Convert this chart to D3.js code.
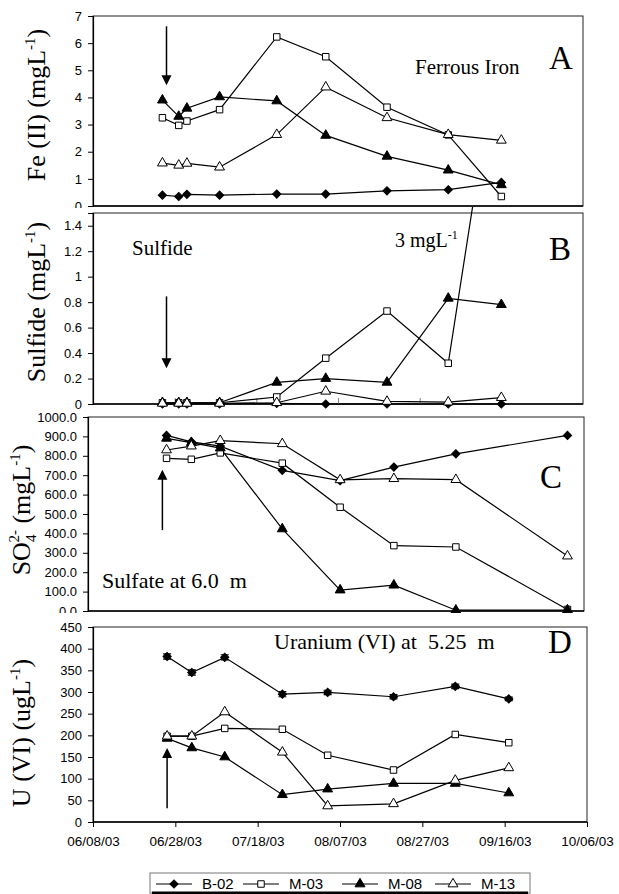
<!DOCTYPE html>
<html><head><meta charset="utf-8">
<script src="https://cdn.jsdelivr.net/npm/d3@7"></script>
<style>body{margin:0;background:#fff}svg{display:block}</style>
</head><body>
<svg id="c" width="619" height="894"></svg>
<script>
// ---------- data ----------
const xDomain = ["06/08/03", "10/06/03"];
const xTickLabels = ["06/08/03","06/28/03","07/18/03","08/07/03","08/27/03","09/16/03","10/06/03"];
const arrowDate = "06/26/03";
const seriesNames = ["B-02", "M-03", "M-08", "M-13"];

// Panel A – Ferrous iron (mg/L)
const datesA = ["06/25/03","06/29/03","07/01/03","07/09/03","07/23/03","08/04/03","08/19/03","09/03/03","09/16/03"];
const feB02 = [0.40, 0.35, 0.43, 0.40, 0.44, 0.44, 0.56, 0.60, 0.87];
const feM03 = [3.25, 2.97, 3.13, 3.55, 6.23, 5.50, 3.64, 2.62, 0.35];
const feM08 = [3.90, 3.30, 3.60, 4.02, 3.87, 2.60, 1.83, 1.32, 0.78];
const feM13 = [1.58, 1.50, 1.57, 1.43, 2.63, 4.38, 3.25, 2.63, 2.42];
const feTicks = [0,1,2,3,4,5,6,7];

// Panel B – Sulfide (mg/L)
const datesB = datesA;
const sB02 = [0, 0, 0, 0, 0.005, 0, 0, 0, 0];
const sM03 = [0.01, 0.01, 0.01, 0.01, 0.055, 0.36, 0.73, 0.32, 3.0];
const sM08 = [0.01, 0.01, 0.01, 0.01, 0.17, 0.20, 0.17, 0.83, 0.78];
const sM13 = [0.005, 0.005, 0.005, 0.005, 0.01, 0.10, 0.02, 0.015, 0.05];
const sTicks = [0,0.2,0.4,0.6,0.8,1,1.2,1.4];

// Panel C – Sulfate (mg/L)
const datesC = ["06/27/03","07/03/03","07/10/03","07/25/03","08/08/03","08/21/03","09/05/03","10/02/03"];
const soB02 = [905, 872, 850, 725, 672, 742, 810, 905];
const soM03 = [787, 782, 815, 762, 535, 337, 330, 8];
const soM08 = [890, 868, 840, 423, 108, 133, 4, 5];
const soM13 = [830, 850, 878, 862, 676, 682, 677, 283];
const soTicks = [0,100,200,300,400,500,600,700,800,900,1000];

// Panel D – Uranium (ug/L)
const datesD = ["06/26/03","07/02/03","07/10/03","07/24/03","08/04/03","08/20/03","09/04/03","09/17/03"];
const uB02 = [382, 345, 380, 295, 299, 289, 313, 284];
const uB02err = [6, 6, 6, 6, 5, 5, 5, 4];
const uM03 = [198, 198, 216, 214, 154, 120, 202, 183];
const uM08 = [193, 171, 150, 63, 76, 89, 89, 67];
const uM13 = [198, 198, 254, 161, 37, 42, 96, 125];
const uTicks = [0,50,100,150,200,250,300,350,400,450];

// ---------- drawing ----------
const parse = d3.timeParse("%m/%d/%y");
const svg = d3.select("#c");
const SERIF = "'Liberation Serif','Times New Roman',serif";
const SANS = "'Liberation Sans',Arial,sans-serif";

const styles = [
  {shape: "diamond", fill: "#000"},
  {shape: "square", fill: "#fff"},
  {shape: "triangle", fill: "#000"},
  {shape: "triangle", fill: "#fff"}
];
function markerPath(shape) {
  if (shape === "diamond") return d3.symbol(d3.symbolSquare, 34)();
  if (shape === "square") return d3.symbol(d3.symbolSquare, 42)();
  return d3.symbol(d3.symbolTriangle, 42)();
}
function drawMarker(sel, st) {
  sel.append("path").attr("d", markerPath(st.shape))
    .attr("transform", st.shape === "diamond" ? "rotate(45)" : null)
    .attr("fill", st.fill).attr("stroke", "#000").attr("stroke-width", 1);
}

let clipId = 0;
function panel(cfg) {
  const g = svg.append("g");
  g.append("rect").attr("x", 0).attr("y", cfg.bgTop).attr("width", 619)
    .attr("height", cfg.bottom - cfg.bgTop + 60).attr("fill", "#fff");
  const x = d3.scaleTime().domain(xDomain.map(parse)).range([cfg.left, cfg.right]);
  const y = d3.scaleLinear().domain([0, cfg.yMax]).range([cfg.bottom, cfg.top]);

  g.append("rect").attr("x", cfg.left).attr("y", cfg.top)
    .attr("width", cfg.right - cfg.left).attr("height", cfg.bottom - cfg.top)
    .attr("fill", "none").attr("stroke", "#222").attr("stroke-width", 1);

  const ya = d3.axisLeft(y).tickValues(cfg.ticks).tickSize(5).tickPadding(6).tickFormat(cfg.fmt);
  const yg = g.append("g").attr("transform", `translate(${cfg.left},0)`).call(ya);
  yg.select(".domain").attr("stroke", "#000").attr("stroke-width", 1.2);
  yg.selectAll(".tick line").attr("stroke", "#000");
  yg.selectAll("text").attr("font-family", SANS).attr("font-size", 13).attr("fill", "#000");

  g.append("line").attr("x1", cfg.left).attr("x2", cfg.right)
    .attr("y1", cfg.bottom).attr("y2", cfg.bottom).attr("stroke", "#000").attr("stroke-width", 1.5);

  if (cfg.innerTicks) {
    const xa = d3.axisBottom(x).tickValues(xTickLabels.slice(1, -1).map(parse)).tickSize(-6).tickFormat("");
    const xg = g.append("g").attr("transform", `translate(0,${cfg.bottom})`).call(xa);
    xg.select(".domain").remove();
    xg.selectAll(".tick line").attr("stroke", "#888");
  }
  if (cfg.xLabels) {
    const xa = d3.axisBottom(x).tickValues(xTickLabels.map(parse)).tickSize(5).tickPadding(9)
      .tickFormat(d3.timeFormat("%m/%d/%y"));
    const xg = g.append("g").attr("transform", `translate(0,${cfg.bottom})`).call(xa);
    xg.select(".domain").remove();
    xg.selectAll(".tick line").attr("stroke", "#000");
    xg.selectAll("text").attr("font-family", SANS).attr("font-size", 13.5).attr("fill", "#000");
  }

  const id = "clip" + (clipId++);
  svg.append("clipPath").attr("id", id).append("rect")
    .attr("x", cfg.left - 10).attr("y", cfg.clipTop)
    .attr("width", cfg.right - cfg.left + 20).attr("height", cfg.bottom - cfg.clipTop + 10);
  const pg = g.append("g").attr("clip-path", `url(#${id})`);

  const dates = cfg.dates.map(parse);
  cfg.series.forEach((vals) => {
    const pts = vals.map((v, i) => [dates[i], v]);
    pg.append("path").datum(pts)
      .attr("d", d3.line().x(d => x(d[0])).y(d => y(d[1])))
      .attr("fill", "none").attr("stroke", "#000").attr("stroke-width", 1.2);
  });
  if (cfg.err) {
    cfg.series[0].forEach((v, i) => {
      const cx = x(dates[i]);
      const e = cfg.err[i];
      pg.append("path")
        .attr("d", `M${cx},${y(v - e)}V${y(v + e)}M${cx - 4},${y(v - e)}H${cx + 4}M${cx - 4},${y(v + e)}H${cx + 4}`)
        .attr("stroke", "#000").attr("stroke-width", 1.2).attr("fill", "none");
    });
  }
  cfg.series.forEach((vals, si) => {
    vals.forEach((v, i) => {
      const m = pg.append("g").attr("transform", `translate(${x(dates[i])},${y(v)})`);
      drawMarker(m, styles[si]);
    });
  });

  const ax = x(parse(arrowDate));
  const y1 = y(cfg.arrow[0]), y2 = y(cfg.arrow[1]);
  const dir = y2 > y1 ? 1 : -1;
  g.append("line").attr("x1", ax).attr("x2", ax).attr("y1", y1).attr("y2", y2 - dir * 8)
    .attr("stroke", "#000").attr("stroke-width", 1.5);
  g.append("path").attr("d", `M${ax - 5},${y2 - dir * 10}L${ax + 5},${y2 - dir * 10}L${ax},${y2}Z`).attr("fill", "#000");

  g.append("text").attr("x", cfg.letterX).attr("y", cfg.letterY).attr("text-anchor", "middle")
    .attr("font-family", SERIF).attr("font-size", 33).text(cfg.letter);

  const t = g.append("text").attr("transform", `translate(${cfg.titleX},${cfg.titleY}) rotate(-90)`)
    .attr("text-anchor", "middle").attr("font-family", SERIF).attr("font-size", 26);
  cfg.title(t);
  return {g, x, y};
}

function unitTitle(t, pre) {
  t.append("tspan").text(pre + " (" + (pre.startsWith("U") ? "ugL" : "mgL"));
  t.append("tspan").attr("font-size", 15).attr("dy", -10).text("-1");
  t.append("tspan").attr("dy", 10).text(")");
}

const A = panel({
  top: 16, bottom: 206, left: 93, right: 583, bgTop: 0, clipTop: 0, yMax: 7,
  ticks: feTicks, fmt: d3.format("d"), dates: datesA,
  series: [feB02, feM03, feM08, feM13], arrow: [6.62, 4.45],
  letter: "A", letterX: 561, letterY: 69, titleX: 45, titleY: 105,
  title: t => unitTitle(t, "Fe (II)")
});
A.g.append("text").attr("x", 415).attr("y", 74).attr("font-family", SERIF).attr("font-size", 21).text("Ferrous Iron");

const B = panel({
  top: 213, bottom: 404, left: 93, right: 583, bgTop: 208, clipTop: 207, yMax: 1.5,
  ticks: sTicks, fmt: d => d3.format("~g")(d), dates: datesB, innerTicks: true,
  series: [sB02, sM03, sM08, sM13], arrow: [0.845, 0.28],
  letter: "B", letterX: 560, letterY: 260, titleX: 45, titleY: 302,
  title: t => unitTitle(t, "Sulfide")
});
B.g.append("text").attr("x", 132).attr("y", 255).attr("font-family", SERIF).attr("font-size", 21).text("Sulfide");
const t3 = B.g.append("text").attr("x", 395).attr("y", 247).attr("font-family", SERIF).attr("font-size", 20);
t3.append("tspan").text("3 mgL");
t3.append("tspan").attr("font-size", 12).attr("dy", -8).text("-1");

const C = panel({
  top: 417, bottom: 611, left: 88, right: 584, bgTop: 410, clipTop: 412, yMax: 1000,
  ticks: soTicks, fmt: d3.format(".1f"), dates: datesC,
  series: [soB02, soM03, soM08, soM13], arrow: [417, 728],
  letter: "C", letterX: 551, letterY: 488, titleX: 30, titleY: 510,
  title: t => {
    t.append("tspan").text("SO");
    t.append("tspan").attr("font-size", 15).attr("dy", 6).text("4");
    t.append("tspan").attr("font-size", 15).attr("dy", -17).attr("dx", -8).text("2-");
    t.append("tspan").attr("dy", 11).text(" (mgL");
    t.append("tspan").attr("font-size", 15).attr("dy", -10).text("-1");
    t.append("tspan").attr("dy", 10).text(")");
  }
});
C.g.append("text").attr("x", 102).attr("y", 588).attr("font-family", SERIF).attr("font-size", 22)
  .style("white-space", "pre").text("Sulfate at 6.0  m");

const D = panel({
  top: 627, bottom: 822, left: 93, right: 587, bgTop: 613, clipTop: 614, yMax: 450,
  ticks: uTicks, fmt: d3.format("d"), dates: datesD, xLabels: true, err: uB02err,
  series: [uB02, uM03, uM08, uM13], arrow: [32, 171],
  letter: "D", letterX: 560, letterY: 653, titleX: 30, titleY: 733,
  title: t => unitTitle(t, "U (VI)")
});
D.g.append("text").attr("x", 274).attr("y", 649).attr("font-family", SERIF).attr("font-size", 22)
  .style("white-space", "pre").text("Uranium (VI) at  5.25  m");

// Legend
const lg = svg.append("g");
lg.append("rect").attr("x", 150).attr("y", 873).attr("width", 380).attr("height", 20)
  .attr("fill", "#fff").attr("stroke", "#777");
lg.append("line").attr("x1", 152).attr("x2", 528).attr("y1", 893).attr("y2", 893)
  .attr("stroke", "#000").attr("stroke-width", 3);
const legX = [156, 243, 342, 435];
seriesNames.forEach((name, i) => {
  const x0 = legX[i];
  lg.append("line").attr("x1", x0).attr("x2", x0 + 36).attr("y1", 884).attr("y2", 884)
    .attr("stroke", "#000").attr("stroke-width", 1.2);
  const m = lg.append("g").attr("transform", `translate(${x0 + 18},884)`);
  drawMarker(m, styles[i]);
  lg.append("text").attr("x", x0 + 46).attr("y", 889).attr("font-family", SANS).attr("font-size", 15).text(name);
});
</script>
</body></html>
